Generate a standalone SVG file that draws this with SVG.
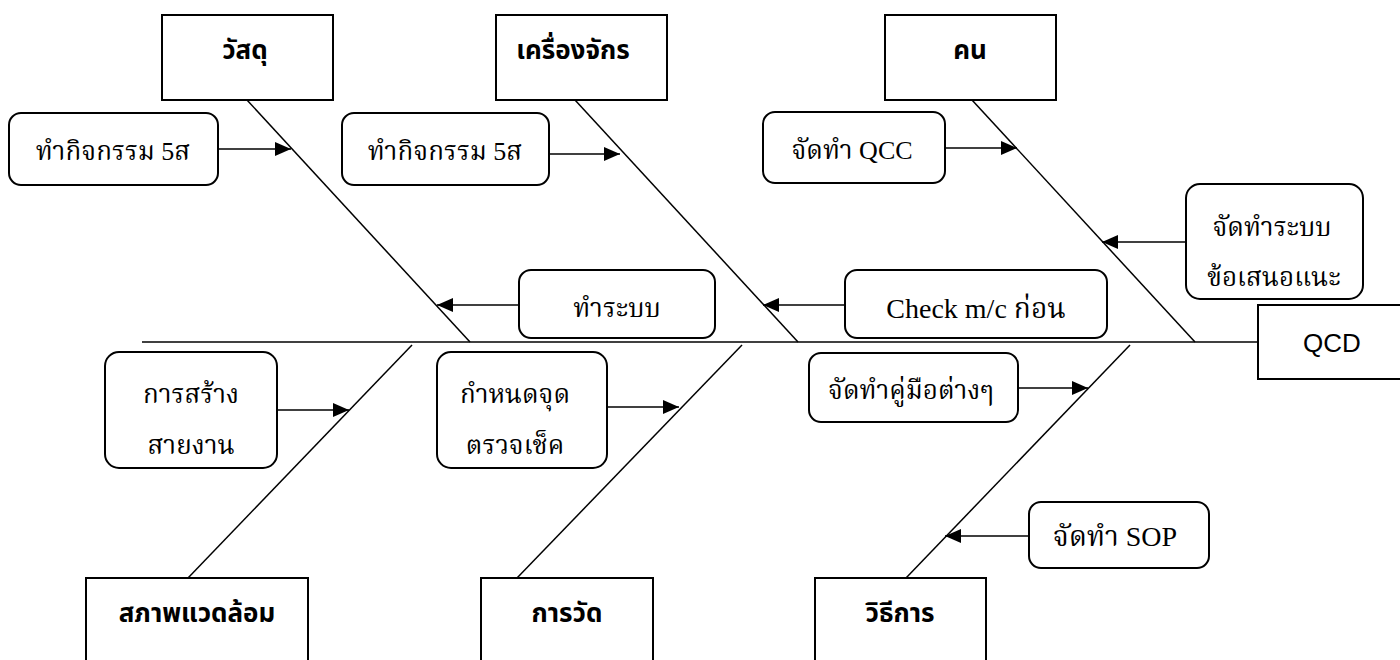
<svg xmlns="http://www.w3.org/2000/svg" width="1400" height="660" viewBox="0 0 1400 660">
<defs>
<marker id="ah" markerUnits="userSpaceOnUse" markerWidth="17" markerHeight="15" refX="16" refY="7.5" orient="auto">
<path d="M0,0.5 L16,7.5 L0,14.5 z" fill="#000"/>
</marker>
<style>
.cat{fill:#fff;stroke:#000;stroke-width:2}
.cause{fill:#fff;stroke:#000;stroke-width:2}
.bone{stroke:#000;stroke-width:1.5;fill:none}
.arr{stroke:#000;stroke-width:1.5;fill:none;marker-end:url(#ah)}
.lbl{font-family:'Noto Sans Thai','Liberation Sans',sans-serif;font-weight:bold;font-size:26px;text-anchor:middle;fill:#000}
.txt{font-family:'Liberation Serif','Noto Serif Thai','Noto Sans Thai',serif;font-size:26px;text-anchor:middle;fill:#000}
.big{font-size:28px}
.qcd{font-family:'Liberation Sans',Arial,sans-serif;font-size:26px;text-anchor:middle;fill:#000}
</style>
</defs>
<rect width="1400" height="660" fill="#fff"/>
<g id="connectors">
<line class="bone" x1="142" y1="342" x2="1258" y2="342"/>
<line class="bone" x1="247" y1="100" x2="470" y2="342"/>
<line class="bone" x1="575" y1="100" x2="798" y2="342"/>
<line class="bone" x1="972" y1="100" x2="1195" y2="342"/>
<line class="bone" x1="412" y1="345" x2="188" y2="578"/>
<line class="bone" x1="742" y1="345" x2="517" y2="578"/>
<line class="bone" x1="1130" y1="345" x2="906" y2="578"/>
<line class="arr" x1="218" y1="149" x2="291" y2="149"/>
<line class="arr" x1="549" y1="154" x2="620" y2="154"/>
<line class="arr" x1="945" y1="148" x2="1017" y2="148"/>
<line class="arr" x1="1186" y1="242" x2="1102" y2="242"/>
<line class="arr" x1="519" y1="305" x2="437" y2="305"/>
<line class="arr" x1="845" y1="305" x2="763" y2="305"/>
<line class="arr" x1="277" y1="410" x2="349" y2="410"/>
<line class="arr" x1="607" y1="407" x2="679" y2="407"/>
<line class="arr" x1="1018" y1="388" x2="1088" y2="388"/>
<line class="arr" x1="1029" y1="536" x2="945" y2="536"/>
</g>
<g id="cat-material"><rect class="cat" x="162" y="15" width="171" height="85"/><text class="lbl" x="245" y="59">วัสดุ</text></g>
<g id="cat-machine"><rect class="cat" x="496" y="15" width="171" height="85"/><text class="lbl" x="573" y="59">เครื่องจักร</text></g>
<g id="cat-man"><rect class="cat" x="885" y="15" width="171" height="85"/><text class="lbl" x="970" y="59">คน</text></g>
<g id="cat-environment"><rect class="cat" x="86" y="578" width="222" height="85"/><text class="lbl" x="197" y="622">สภาพแวดล้อม</text></g>
<g id="cat-measurement"><rect class="cat" x="481" y="578" width="172" height="85"/><text class="lbl" x="567" y="622">การวัด</text></g>
<g id="cat-method"><rect class="cat" x="815" y="578" width="171" height="85"/><text class="lbl" x="900" y="622">วิธีการ</text></g>
<g id="effect-qcd"><rect class="cat" x="1258" y="305" width="150" height="74"/><text class="qcd" x="1332" y="352">QCD</text></g>
<g id="c1"><rect class="cause" x="9" y="113" width="209" height="72" rx="12"/><text class="txt" x="113" y="160">ทำกิจกรรม 5ส</text></g>
<g id="c2"><rect class="cause" x="342" y="113" width="207" height="72" rx="12"/><text class="txt" x="445" y="160">ทำกิจกรรม 5ส</text></g>
<g id="c3"><rect class="cause" x="763" y="112" width="182" height="71" rx="12"/><text class="txt" x="852" y="159">จัดทำ QCC</text></g>
<g id="c4"><rect class="cause" x="1186" y="184" width="177" height="115" rx="14"/><text class="txt" x="1272" y="236">จัดทำระบบ</text><text class="txt" x="1274" y="286">ข้อเสนอแนะ</text></g>
<g id="c5"><rect class="cause" x="519" y="270" width="196" height="68" rx="12"/><text class="txt" x="617" y="317">ทำระบบ</text></g>
<g id="c6"><rect class="cause" x="845" y="270" width="262" height="68" rx="12"/><text class="txt big" x="976" y="318">Check m/c ก่อน</text></g>
<g id="c7"><rect class="cause" x="105" y="352" width="172" height="116" rx="14"/><text class="txt" x="191" y="403">การสร้าง</text><text class="txt" x="191" y="454">สายงาน</text></g>
<g id="c8"><rect class="cause" x="437" y="352" width="170" height="116" rx="14"/><text class="txt" x="515" y="403">กำหนดจุด</text><text class="txt" x="515" y="454">ตรวจเช็ค</text></g>
<g id="c9"><rect class="cause" x="809" y="353" width="209" height="69" rx="12"/><text class="txt" x="911" y="399">จัดทำคู่มือต่างๆ</text></g>
<g id="c10"><rect class="cause" x="1029" y="502" width="180" height="66" rx="12"/><text class="txt big" x="1115" y="546">จัดทำ SOP</text></g>
</svg>
